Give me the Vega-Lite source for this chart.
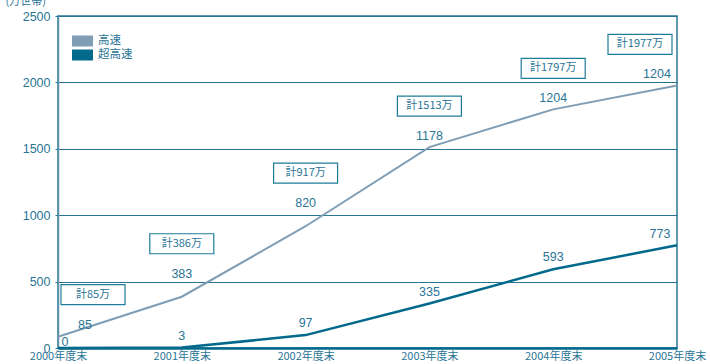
{
  "$schema": "https://vega.github.io/schema/vega-lite/v6.json",
  "width": 619,
  "height": 332,
  "autosize": {"type": "none"},
  "padding": {"left": 58, "top": 16, "right": 33, "bottom": 16},
  "background": "white",
  "config": {
    "font": "Noto Sans CJK JP",
    "view": {"stroke": "#2a7596", "strokeWidth": 1.5},
    "axis": {"labelFont": "Noto Sans CJK JP", "titleFont": "Noto Sans CJK JP"}
  },
  "data": {
    "values": [
      {"year": "2000年度末", "fast": 85, "ultra": 0, "total": 85, "totalLabel": "計85万"},
      {"year": "2001年度末", "fast": 383, "ultra": 3, "total": 386, "totalLabel": "計386万"},
      {"year": "2002年度末", "fast": 820, "ultra": 97, "total": 917, "totalLabel": "計917万"},
      {"year": "2003年度末", "fast": 1178, "ultra": 335, "total": 1513, "totalLabel": "計1513万"},
      {"year": "2004年度末", "fast": 1204, "ultra": 593, "total": 1797, "totalLabel": "計1797万"},
      {"year": "2005年度末", "fast": 1204, "ultra": 773, "total": 1977, "totalLabel": "計1977万"}
    ]
  },
  "encoding": {
    "x": {
      "field": "year",
      "type": "ordinal",
      "sort": null,
      "scale": {"type": "point", "padding": 0},
      "axis": {
        "title": null,
        "labelAngle": 0,
        "labelFontSize": 11,
        "labelColor": "#2a7596",
        "labelPadding": 2,
        "ticks": false,
        "domainColor": "#00698c",
        "domainWidth": 2.5,
        "labelOverlap": false,
        "labelBound": false
      }
    }
  },
  "layer": [
    {
      "mark": {"type": "line", "strokeWidth": 2},
      "encoding": {
        "y": {
          "field": "total",
          "type": "quantitative",
          "scale": {"domain": [0, 2500], "nice": false},
          "axis": {
            "values": [0, 500, 1000, 1500, 2000, 2500],
            "format": "d",
            "title": "(万世帯)",
            "titleAngle": 0,
            "titleAlign": "left",
            "titleBaseline": "alphabetic",
            "titleX": -53,
            "titleY": -12,
            "titleFontSize": 11,
            "titleFontWeight": "normal",
            "titleColor": "#2a7596",
            "labelFont": "Liberation Sans",
            "labelFontSize": 12.5,
            "labelColor": "#2a7596",
            "labelPadding": 5,
            "tickSize": 3,
            "tickColor": "#2a7596",
            "domainColor": "#5f93ab",
            "domainWidth": 1.5,
            "grid": true,
            "gridColor": "#2a7596",
            "gridWidth": 1
          }
        },
        "color": {
          "datum": "高速",
          "type": "nominal",
          "scale": {"domain": ["高速", "超高速"], "range": ["#7f9db5", "#00698c"]},
          "legend": {
            "title": null,
            "orient": "none",
            "legendX": 16.5,
            "legendY": 17,
            "padding": 0,
            "rowPadding": 0,
            "symbolType": "M-1.3125,-0.6875H1.3125V0.6875H-1.3125Z",
            "symbolSize": 256,
            "labelFontSize": 11.5,
            "labelColor": "#2a7596",
            "labelOffset": 7.5,
            "labelFont": "Noto Sans CJK JP",
            "encode": {
              "symbols": {
                "update": {
                  "fill": {"scale": "color", "field": "value"},
                  "fillOpacity": {"value": 1},
                  "strokeWidth": {"value": 0}
                }
              }
            }
          }
        }
      }
    },
    {
      "mark": {"type": "line", "strokeWidth": 2.5},
      "encoding": {
        "y": {"field": "ultra", "type": "quantitative"},
        "color": {"datum": "超高速", "type": "nominal"}
      }
    },
    {
      "transform": [{"filter": "datum.year == '2000年度末'"}],
      "encoding": {"y": {"field": "total", "type": "quantitative"}},
      "layer": [
        {"mark": {"type": "point", "shape": "M-1,-0.3125H1V0.3125H-1Z", "size": 4096, "filled": true, "fill": "white", "stroke": "#1f7c99", "strokeWidth": 1.2, "opacity": 1, "xOffset": 35, "yOffset": -42}},
        {"mark": {"type": "text", "fontSize": 11, "color": "#2a7596", "dx": 35, "dy": -42}, "encoding": {"text": {"field": "totalLabel"}}},
        {"mark": {"type": "text", "font": "Liberation Sans", "fontSize": 12.5, "color": "#2a7596", "dx": 27, "dy": -12}, "encoding": {"text": {"field": "fast"}}}
      ]
    },
    {
      "transform": [{"filter": "datum.year == '2001年度末' || datum.year == '2002年度末'"}],
      "encoding": {"y": {"field": "total", "type": "quantitative"}},
      "layer": [
        {"mark": {"type": "point", "shape": "M-1,-0.3125H1V0.3125H-1Z", "size": 4096, "filled": true, "fill": "white", "stroke": "#1f7c99", "strokeWidth": 1.2, "opacity": 1, "yOffset": -53}},
        {"mark": {"type": "text", "fontSize": 11, "color": "#2a7596", "dy": -53}, "encoding": {"text": {"field": "totalLabel"}}},
        {"mark": {"type": "text", "font": "Liberation Sans", "fontSize": 12.5, "color": "#2a7596", "dy": -23}, "encoding": {"text": {"field": "fast"}}}
      ]
    },
    {
      "transform": [{"filter": "datum.year == '2003年度末' || datum.year == '2004年度末'"}],
      "encoding": {"y": {"field": "total", "type": "quantitative"}},
      "layer": [
        {"mark": {"type": "point", "shape": "M-1,-0.3125H1V0.3125H-1Z", "size": 4096, "filled": true, "fill": "white", "stroke": "#1f7c99", "strokeWidth": 1.2, "opacity": 1, "yOffset": -41}},
        {"mark": {"type": "text", "fontSize": 11, "color": "#2a7596", "dy": -41}, "encoding": {"text": {"field": "totalLabel"}}},
        {"mark": {"type": "text", "font": "Liberation Sans", "fontSize": 12.5, "color": "#2a7596", "dy": -11}, "encoding": {"text": {"field": "fast"}}}
      ]
    },
    {
      "transform": [{"filter": "datum.year == '2005年度末'"}],
      "encoding": {"y": {"field": "total", "type": "quantitative"}},
      "layer": [
        {"mark": {"type": "point", "shape": "M-1,-0.3125H1V0.3125H-1Z", "size": 4096, "filled": true, "fill": "white", "stroke": "#1f7c99", "strokeWidth": 1.2, "opacity": 1, "xOffset": -37, "yOffset": -41}},
        {"mark": {"type": "text", "fontSize": 11, "color": "#2a7596", "dx": -37, "dy": -41}, "encoding": {"text": {"field": "totalLabel"}}},
        {"mark": {"type": "text", "font": "Liberation Sans", "fontSize": 12.5, "color": "#2a7596", "dx": -20, "dy": -11}, "encoding": {"text": {"field": "fast"}}}
      ]
    },
    {
      "transform": [{"filter": "datum.year == '2000年度末'"}],
      "mark": {"type": "text", "font": "Liberation Sans", "fontSize": 12.5, "color": "#2a7596", "dx": 7, "dy": -6},
      "encoding": {"y": {"field": "ultra", "type": "quantitative"}, "text": {"field": "ultra"}}
    },
    {
      "transform": [{"filter": "datum.year != '2000年度末' && datum.year != '2005年度末'"}],
      "mark": {"type": "text", "font": "Liberation Sans", "fontSize": 12.5, "color": "#2a7596", "dy": -12},
      "encoding": {"y": {"field": "ultra", "type": "quantitative"}, "text": {"field": "ultra"}}
    },
    {
      "transform": [{"filter": "datum.year == '2005年度末'"}],
      "mark": {"type": "text", "font": "Liberation Sans", "fontSize": 12.5, "color": "#2a7596", "dx": -17, "dy": -11},
      "encoding": {"y": {"field": "ultra", "type": "quantitative"}, "text": {"field": "ultra"}}
    }
  ]
}
